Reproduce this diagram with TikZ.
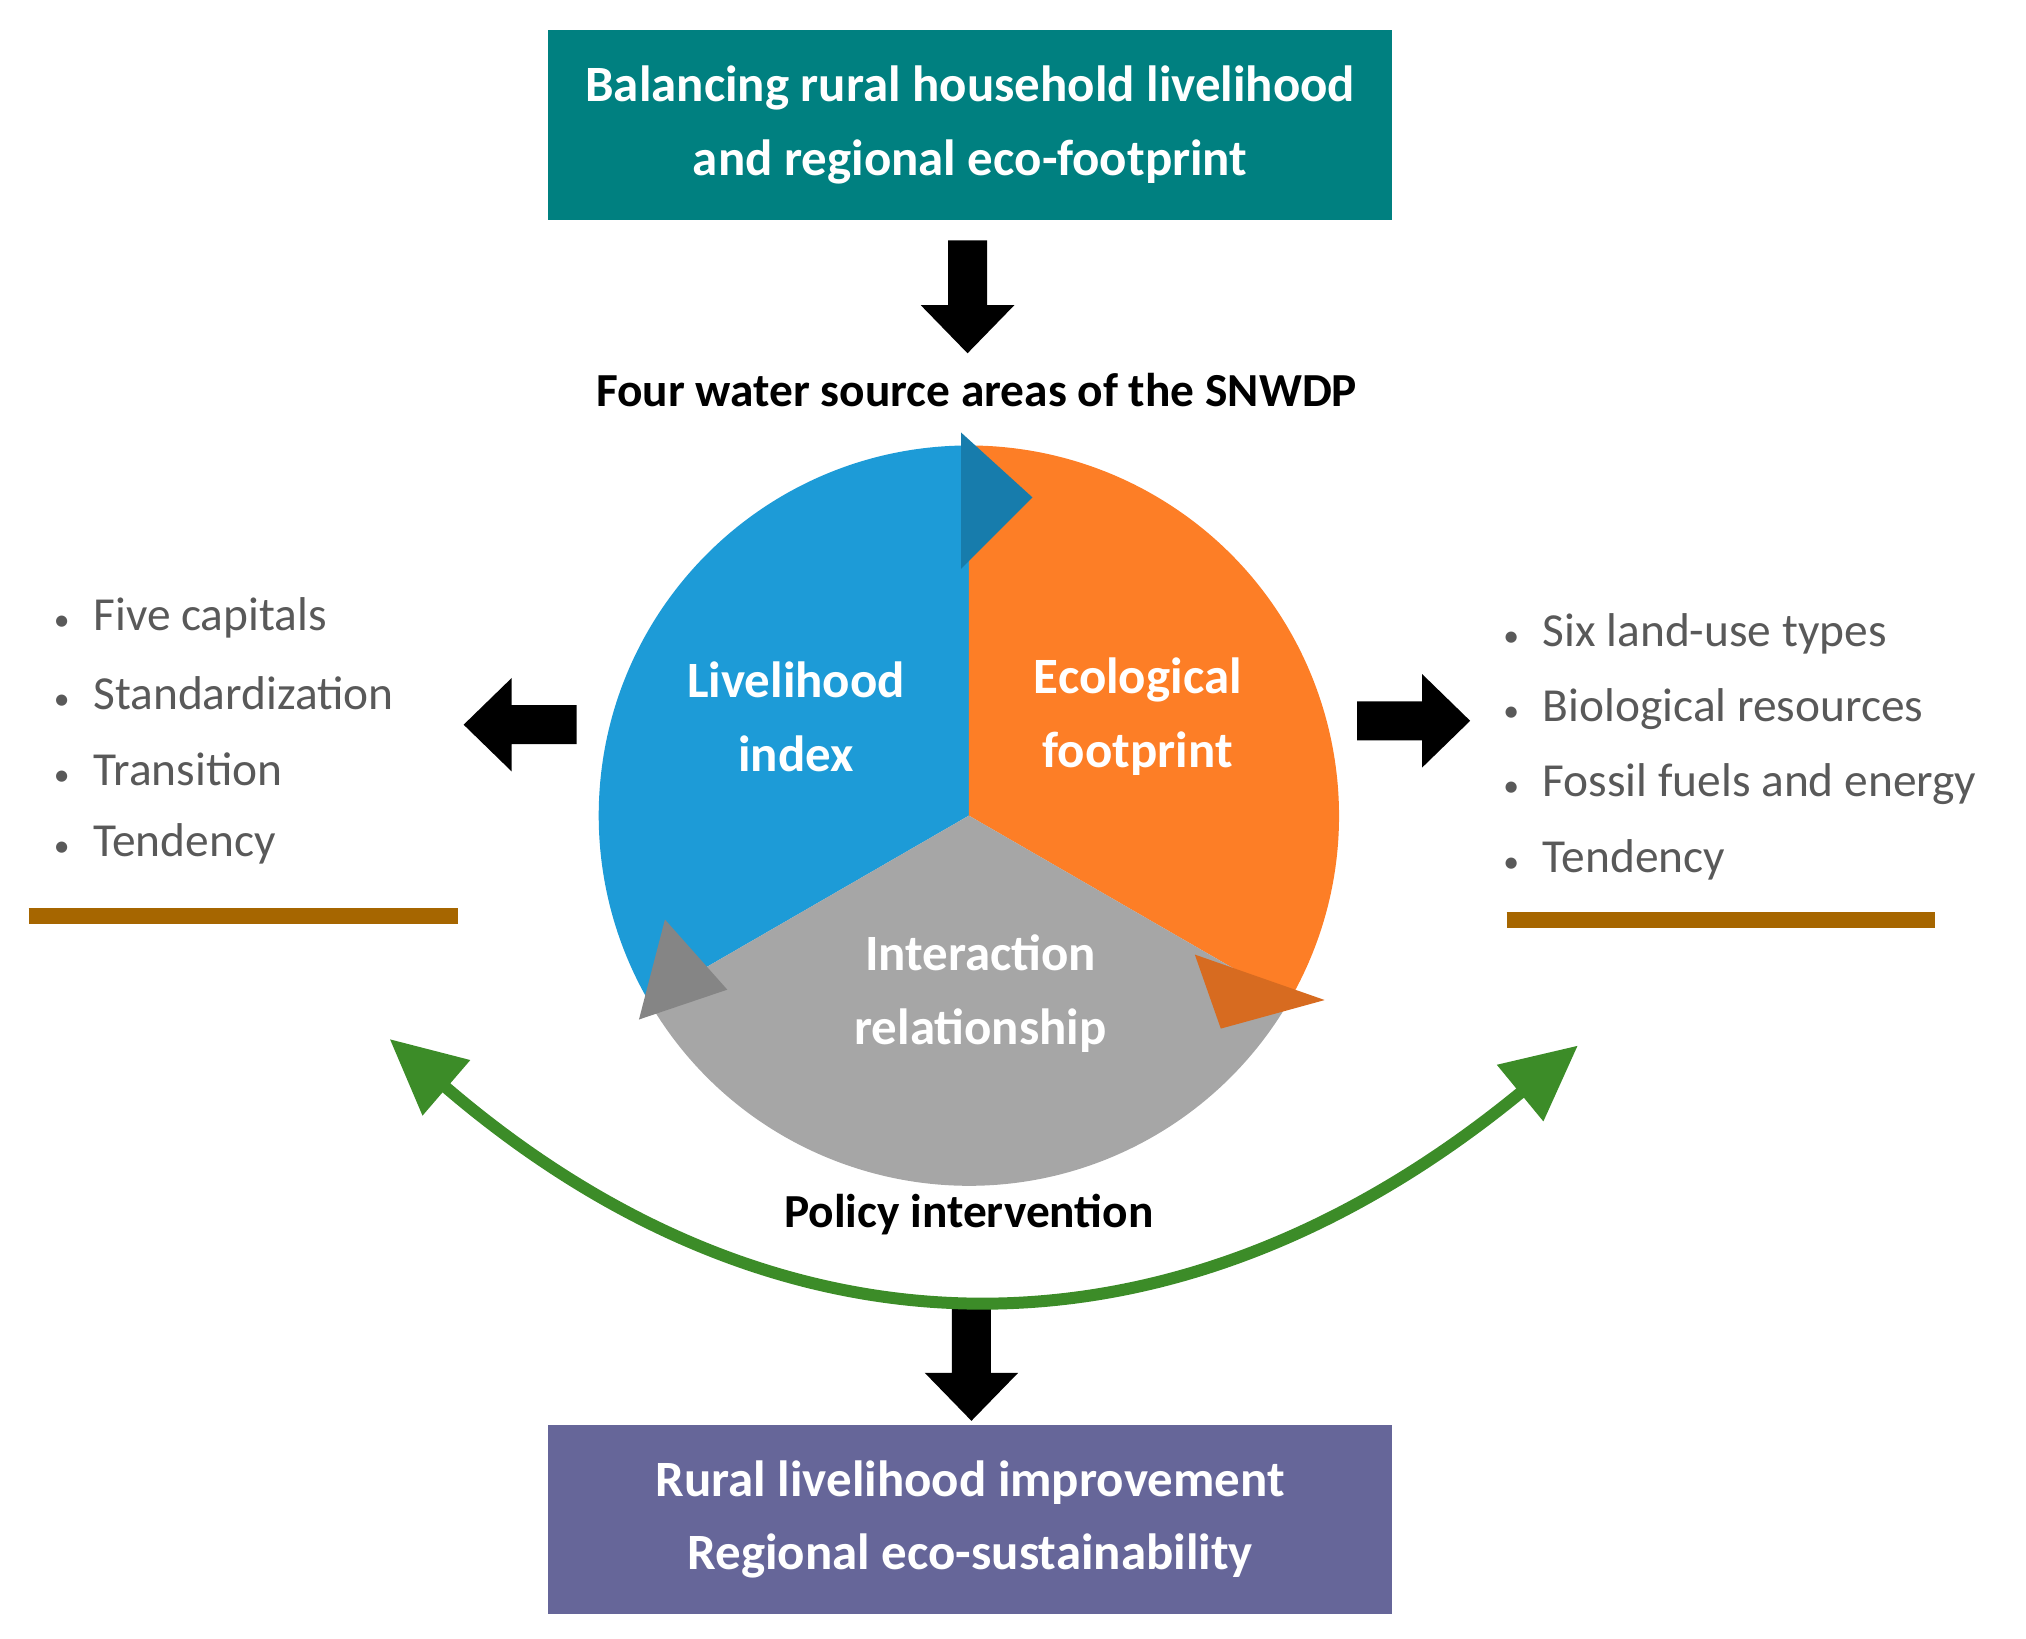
\documentclass[tikz,border=0pt]{standalone}
\usepackage{fontspec}
\setmainfont{Carlito}
\usepackage{xcolor}
\usetikzlibrary{arrows.meta, positioning}
\definecolor{tealbox}{RGB}{0,128,128}
\definecolor{purplebox}{RGB}{102,102,153}
\definecolor{liveblue}{RGB}{29,155,215}
\definecolor{ecoorange}{RGB}{253,126,38}
\definecolor{intgray}{RGB}{166,166,166}
\definecolor{listgray}{RGB}{89,89,89}
\definecolor{rulebrown}{RGB}{166,102,0}
\definecolor{policygreen}{RGB}{60,140,40}
\newcommand\blockarrow[2]{%
  \fill[black, shift={(#1)}, rotate=#2] (-15,-43) -- (15,-43) -- (15,7) -- (36,7) -- (0,44) -- (-36,7) -- (-15,7) -- cycle;}

\begin{document}
\begin{tikzpicture}[x=0.013cm, y=-0.013cm,
    box/.style={rectangle, minimum width=8.45cm, minimum height=1.9cm, text=white, font=\fontsize{14.5}{21}\selectfont\bfseries, align=center},
    sector/.style={white, font=\fontsize{14.5}{21}\selectfont\bfseries, align=center},
    item/.style={anchor=west, text=listgray, font=\fontsize{13.5}{16}\selectfont},
    heading/.style={font=\fontsize{13.5}{16}\selectfont\bfseries}
]
\useasboundingbox (0,0) rectangle (1560,1262);

% Top and bottom boxes
\node[box, fill=tealbox] (goal) at (747,96) {Balancing rural household livelihood\\and regional eco-footprint};
\node[box, fill=purplebox] (result) at (747,1170) {Rural livelihood improvement\\Regional eco-sustainability};

% Block arrows
\blockarrow{745,228}{0}
\blockarrow{748,1050}{0}
\blockarrow{401,558}{-90}
\blockarrow{1088,555}{90}

\node[heading] (areas) at (752,300) {Four water source areas of the SNWDP};

% Circle of three sectors
\coordinate (c) at (746,628);
\fill[liveblue] (c) -- ++(-90:285) arc[start angle=-90, end angle=-210, radius=285] -- cycle;
\fill[ecoorange] (c) -- ++(30:285) arc[start angle=30, end angle=-90, radius=285] -- cycle;
\fill[intgray] (c) -- ++(-210:285) arc[start angle=150, end angle=30, radius=285] -- cycle;
\fill[liveblue!80!black] (740,333) -- (795,383) -- (740,438) -- cycle;
\fill[ecoorange!85!black] (920,735) -- (1020,770) -- (940,792) -- cycle;
\fill[intgray!80!black] (512,708) -- (492,785) -- (560,762) -- cycle;

\node[sector] (live) at (613,552) {Livelihood\\index};
\node[sector] (eco) at (876,552) {Ecological\\footprint};
\node[sector] (inter) at (755,765) {Interaction\\relationship};

% Left list
\foreach \t [count=\i] in {Five capitals, Standardization, Transition, Tendency}
  \node[item] (l\i) at (32,418+58*\i) {{\small\textbullet}\enspace\t};
\draw[rulebrown, line width=0.16cm] (22,705) -- (353,705);

% Right list
\foreach \t [count=\i] in {Six land-use types, Biological resources, Fossil fuels and energy, Tendency}
  \node[item] (r\i) at (1148,430+58*\i) {{\small\textbullet}\enspace\t};
\draw[rulebrown, line width=0.16cm] (1160,708) -- (1490,708);

% Policy arc
\coordinate (pl) at (300,800);
\coordinate (pr) at (1215,805);
\draw[policygreen, line width=0.12cm, {Triangle[length=0.75cm, width=0.7cm]}-{Triangle[length=0.75cm, width=0.7cm]}]
  (pl) .. controls (600,1058) and (905,1060) .. (pr);
\node[heading] (policy) at (746,935) {Policy intervention};

\end{tikzpicture}
\end{document}
